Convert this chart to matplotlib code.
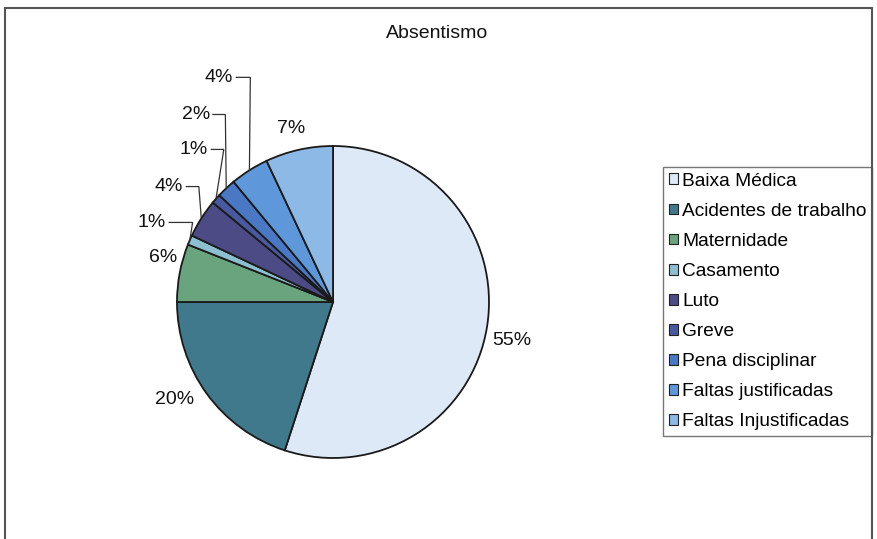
import numpy as np
import matplotlib.pyplot as plt
from matplotlib.patches import Rectangle

plt.rcParams['font.family'] = ['Liberation Sans', 'DejaVu Sans']

categories = ['Baixa Médica', 'Acidentes de trabalho', 'Maternidade', 'Casamento',
              'Luto', 'Greve', 'Pena disciplinar', 'Faltas justificadas',
              'Faltas Injustificadas']
values = [55, 20, 6, 1, 4, 1, 2, 4, 7]
colors = ['#dde9f7', '#41798c', '#6aa47f', '#8cc0d0', '#4d4b85',
          '#4959a0', '#4a78c4', '#5f97db', '#8cb9e6']

# label placement in pie units (radius = 1); leader=True -> text anchored at its right edge
label_pos = [(1.147, -0.244), (-1.013, -0.628), (-1.090, 0.288), (-1.07, 0.51),
             (-0.96, 0.74), (-0.80, 0.978), (-0.79, 1.202), (-0.64, 1.44),
             (-0.269, 1.115)]
leader = [False, False, False, True, True, True, True, True, False]
elbow = [0, 0, 0, 0.15, 0.08, 0.08, 0.08, 0.09, 0]

W, H = 878, 539
cx, cy, R = 333, 302, 156

fig = plt.figure(figsize=(W / 100, H / 100), dpi=100)
ax = fig.add_axes([0, 0, 1, 1])

wedges, _ = ax.pie(values, colors=colors, startangle=90, counterclock=False,
                   radius=1, wedgeprops=dict(edgecolor='#1a1a1a', linewidth=1.3))
ax.set_xlim(-cx / R, (W - cx) / R)
ax.set_ylim(-(H - cy) / R, cy / R)
ax.axis('off')

for w, v, (lx, ly), lead, el in zip(wedges, values, label_pos, leader, elbow):
    txt = f'{v}%'
    if lead:
        mid = np.deg2rad((w.theta1 + w.theta2) / 2)
        ex, ey = np.cos(mid), np.sin(mid)
        x0 = lx + 0.02
        ax.plot([x0, x0 + el, ex], [ly, ly, ey], color='#333333', lw=0.9,
                solid_joinstyle='miter')
        ax.text(lx, ly, txt, ha='right', va='center', fontsize=14, color='#111111')
    else:
        ax.text(lx, ly, txt, ha='center', va='center', fontsize=14, color='#111111')

fig.text(437 / W, 1 - 33 / H, 'Absentismo', ha='center', va='center',
         fontsize=14, color='#111111')

# outer chart frame, open at the bottom of the image
fig.patches.append(Rectangle((5 / W, -0.05), 867 / W, 1.05 - 8 / H,
                             transform=fig.transFigure, fill=False,
                             edgecolor='#555555', linewidth=1.5))

leg = ax.legend(wedges, categories, loc='upper left',
                bbox_to_anchor=(663 / W, 1 - 167 / H), bbox_transform=fig.transFigure,
                fontsize=13.8, frameon=True, fancybox=False, edgecolor='#555555',
                handlelength=0.5, handleheight=0.5, handletextpad=0.2,
                labelspacing=0.68, borderpad=0.3, borderaxespad=0)
leg.get_frame().set_linewidth(1.0)
for h in leg.legend_handles:
    h.set_linewidth(0.8)
    h.set_edgecolor('#222222')

fig.savefig('out.png', dpi=100)
